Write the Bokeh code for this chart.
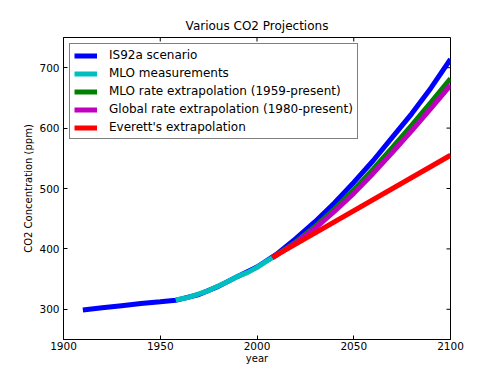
import math
from bokeh.plotting import figure
from bokeh.models import FixedTicker, Legend, LegendItem, Range1d
from bokeh.embed import file_html
from bokeh.resources import INLINE

# ---- data ----
is92a_years = [1910, 1920, 1930, 1940, 1950, 1958, 1960, 1970, 1980, 1990, 2000,
               2010, 2020, 2030, 2040, 2050, 2060, 2070, 2080, 2090, 2100]
is92a_co2 = [299, 302.5, 306, 309.5, 312.5, 315, 316.5, 324.5, 338, 354.5, 370,
             391, 417, 445, 476, 510, 546, 585, 624, 667, 714]

mlo_years = [1958, 1960, 1965, 1970, 1975, 1980, 1985, 1990, 1995, 2000, 2005, 2008]
mlo_co2 = [315.3, 316.9, 320.0, 325.7, 331.1, 338.7, 346.1, 354.4, 360.8, 369.5, 379.8, 385.6]

proj_years = [2008, 2010, 2020, 2030, 2040, 2050, 2060, 2070, 2080, 2090, 2100]
mlo_rate_co2 = [385.6, 389.8, 411.5, 437, 466, 497.5, 532, 568, 605, 643, 682]
global_rate_co2 = [385.6, 389.5, 410, 434, 462, 492, 525, 560, 596, 633, 671]

everett_years = [2008, 2100]
everett_co2 = [386, 555]

x_ticks = [1900, 1950, 2000, 2050, 2100]
y_ticks = [300, 400, 500, 600, 700]
x_lim = (1900, 2100)
y_lim = (250, 750)

FONT = "DejaVu Sans"

p = figure(width=492, height=369, output_backend="svg", toolbar_location=None,
           x_range=Range1d(*x_lim), y_range=Range1d(*y_lim),
           min_border_left=63, min_border_right=42, min_border_top=37, min_border_bottom=30,
           title="Various CO2 Projections")
p.title.align = "center"
p.title.text_font = FONT
p.title.text_font_size = "12px"
p.title.text_font_style = "normal"
p.title.text_color = "black"
p.grid.visible = False
p.outline_line_color = "black"
p.outline_line_width = 1
p.background_fill_color = "white"
p.border_fill_color = "white"

for ax, ticks in ((p.xaxis[0], x_ticks), (p.yaxis[0], y_ticks)):
    ax.ticker = FixedTicker(ticks=ticks)
    ax.major_tick_in = 4
    ax.major_tick_out = 0
    ax.minor_tick_line_color = None
    ax.axis_line_color = "black"
    ax.major_tick_line_color = "black"
    ax.major_label_text_font = FONT
    ax.major_label_text_font_size = "10.5px"
    ax.major_label_text_color = "black"
    ax.axis_label_text_font = FONT
    ax.axis_label_text_font_size = "10px"
    ax.axis_label_text_font_style = "normal"
    ax.axis_label_text_color = "black"

p.xaxis[0].axis_label = "year"
p.xaxis[0].major_label_standoff = 2
p.xaxis[0].axis_label_standoff = 0
p.yaxis[0].axis_label = "CO2 Concentration (ppm)"
p.yaxis[0].major_label_standoff = 4
p.yaxis[0].axis_label_standoff = 2

lw = 5
r1 = p.line(is92a_years, is92a_co2, line_color="#0000ff", line_width=lw)
r2 = p.line(mlo_years, mlo_co2, line_color="#00bfbf", line_width=lw)
r3 = p.line(proj_years, mlo_rate_co2, line_color="#008000", line_width=lw)
r4 = p.line(proj_years, global_rate_co2, line_color="#bf00bf", line_width=lw)
r5 = p.line(everett_years, everett_co2, line_color="#ff0000", line_width=lw)

# inward ticks on the top and right frame edges (matplotlib classic style)
p.ray(x=x_ticks, y=[y_lim[1]] * len(x_ticks), length=4, length_units="screen",
      angle=-math.pi / 2, line_color="black", line_width=1)
p.ray(x=[x_lim[1]] * len(y_ticks), y=y_ticks, length=4, length_units="screen",
      angle=math.pi, line_color="black", line_width=1)

legend = Legend(items=[
    LegendItem(label="IS92a scenario", renderers=[r1]),
    LegendItem(label="MLO measurements", renderers=[r2]),
    LegendItem(label="MLO rate extrapolation (1959-present)", renderers=[r3]),
    LegendItem(label="Global rate extrapolation (1980-present)", renderers=[r4]),
    LegendItem(label="Everett's extrapolation", renderers=[r5]),
], location="top_left")
legend.margin = 6
legend.padding = 4
legend.spacing = 4
legend.glyph_height = 13
legend.label_height = 13
legend.glyph_width = 23
legend.label_standoff = 12
legend.label_text_font = FONT
legend.label_text_font_size = "12px"
legend.label_text_color = "black"
legend.border_line_color = "black"
legend.border_line_width = 1
legend.background_fill_color = "white"
legend.background_fill_alpha = 1
p.add_layout(legend, "center")

open("out.html", "w").write(file_html(p, INLINE))
